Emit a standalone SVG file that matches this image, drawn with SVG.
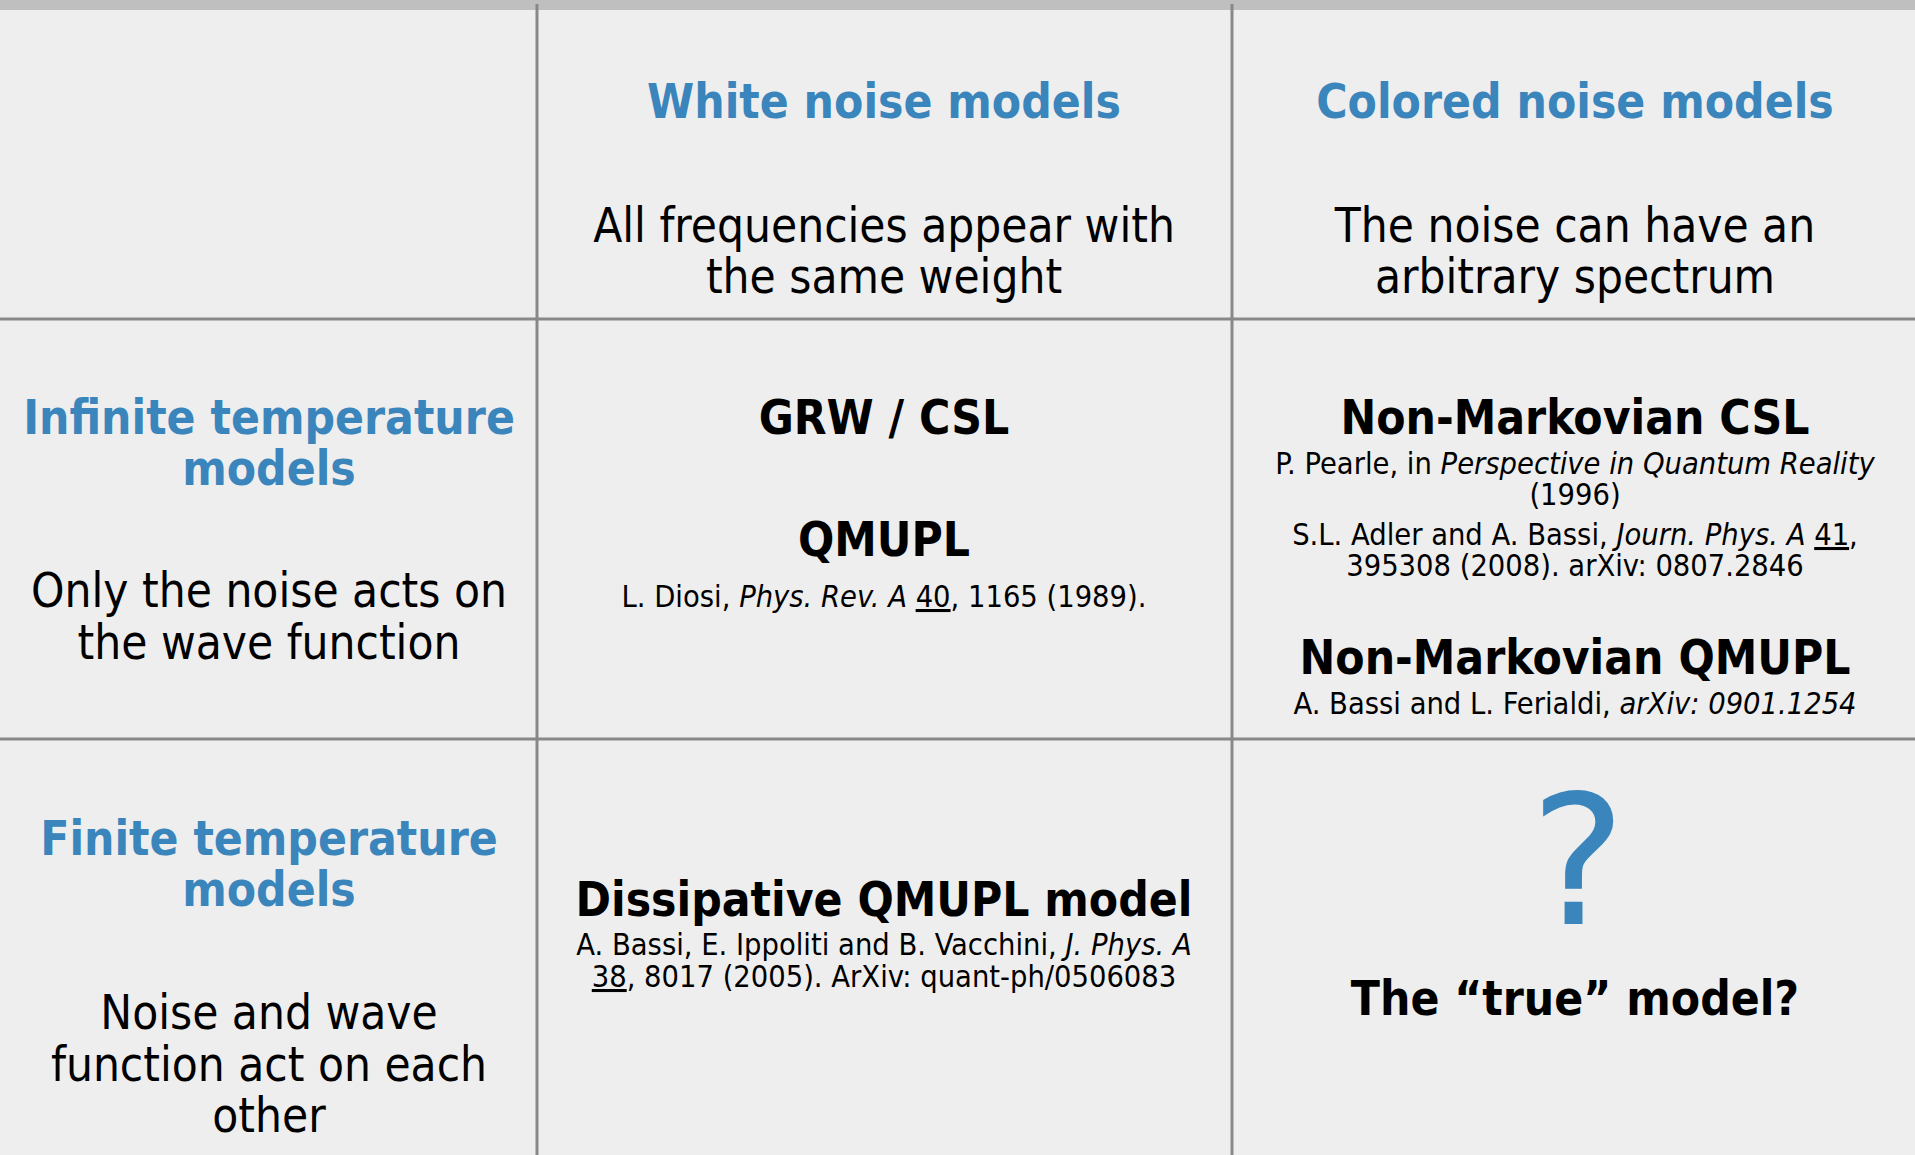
<svg xmlns="http://www.w3.org/2000/svg" width="1915" height="1155" viewBox="0 0 1915 1155">
<style>
text { font-family: "DejaVu Sans Condensed", "DejaVu Sans", sans-serif; font-stretch: condensed; text-anchor: middle; fill: #000; }
.hd { font-weight: bold; fill: #3a85bb; font-size: 47.5px; }
.bd { font-size: 47.3px; }
.ti { font-weight: bold; font-size: 47.5px; }
.rf { font-size: 30.5px; }
.it { font-style: italic; }
.ul { text-decoration: underline; }
.q { font-family: "DejaVu Sans", sans-serif; font-stretch: normal; font-size: 180px; fill: #3a85bb; }
.grid line { stroke: #888888; stroke-width: 3; }
</style>
<rect x="0" y="0" width="1915" height="1155" fill="#eeeeee"/>
<rect x="0" y="0" width="1915" height="10" fill="#bfbfbf"/>
<g id="grid" class="grid">
  <line x1="537" y1="4" x2="537" y2="1155"/>
  <line x1="1232" y1="4" x2="1232" y2="1155"/>
  <line x1="0" y1="319" x2="1915" y2="319"/>
  <line x1="0" y1="739" x2="1915" y2="739"/>
</g>
<g id="white-header">
  <text class="hd" x="884" y="118">White noise models</text>
  <text class="bd" x="884" y="242">All frequencies appear with</text>
  <text class="bd" x="884" y="293">the same weight</text>
</g>
<g id="colored-header">
  <text class="hd" x="1575" y="118">Colored noise models</text>
  <text class="bd" x="1575" y="242">The noise can have an</text>
  <text class="bd" x="1575" y="293">arbitrary spectrum</text>
</g>
<g id="infinite-header">
  <text class="hd" x="269" y="434">Infinite temperature</text>
  <text class="hd" x="269" y="485">models</text>
  <text class="bd" x="269" y="607">Only the noise acts on</text>
  <text class="bd" x="269" y="659">the wave function</text>
</g>
<g id="white-infinite">
  <text class="ti" x="884" y="434">GRW / CSL</text>
  <text class="ti" x="884" y="556">QMUPL</text>
  <text class="rf" x="884" y="607">L. Diosi, <tspan class="it">Phys. Rev. A</tspan> <tspan class="ul">40</tspan>, 1165 (1989).</text>
</g>
<g id="colored-infinite">
  <text class="ti" x="1575" y="434">Non-Markovian CSL</text>
  <text class="rf" x="1575" y="474">P. Pearle, in <tspan class="it">Perspective in Quantum Reality</tspan></text>
  <text class="rf" x="1575" y="505">(1996)</text>
  <text class="rf" x="1575" y="545">S.L. Adler and A. Bassi, <tspan class="it">Journ. Phys. A</tspan> <tspan class="ul">41</tspan>,</text>
  <text class="rf" x="1575" y="576">395308 (2008). arXiv: 0807.2846</text>
  <text class="ti" x="1575" y="674">Non-Markovian QMUPL</text>
  <text class="rf" x="1575" y="714">A. Bassi and L. Ferialdi, <tspan class="it">arXiv: 0901.1254</tspan></text>
</g>
<g id="finite-header">
  <text class="hd" x="269" y="855">Finite temperature</text>
  <text class="hd" x="269" y="906">models</text>
  <text class="bd" x="269" y="1029">Noise and wave</text>
  <text class="bd" x="269" y="1081">function act on each</text>
  <text class="bd" x="269" y="1132">other</text>
</g>
<g id="white-finite">
  <text class="ti" x="884" y="916">Dissipative QMUPL model</text>
  <text class="rf" x="884" y="955">A. Bassi, E. Ippoliti and B. Vacchini, <tspan class="it">J. Phys. A</tspan></text>
  <text class="rf" x="884" y="987"><tspan class="ul">38</tspan>, 8017 (2005). ArXiv: quant-ph/0506083</text>
</g>
<g id="colored-finite">
  <text class="q" x="1578" y="924">?</text>
  <text class="ti" x="1575" y="1015">The “true” model?</text>
</g>
</svg>
